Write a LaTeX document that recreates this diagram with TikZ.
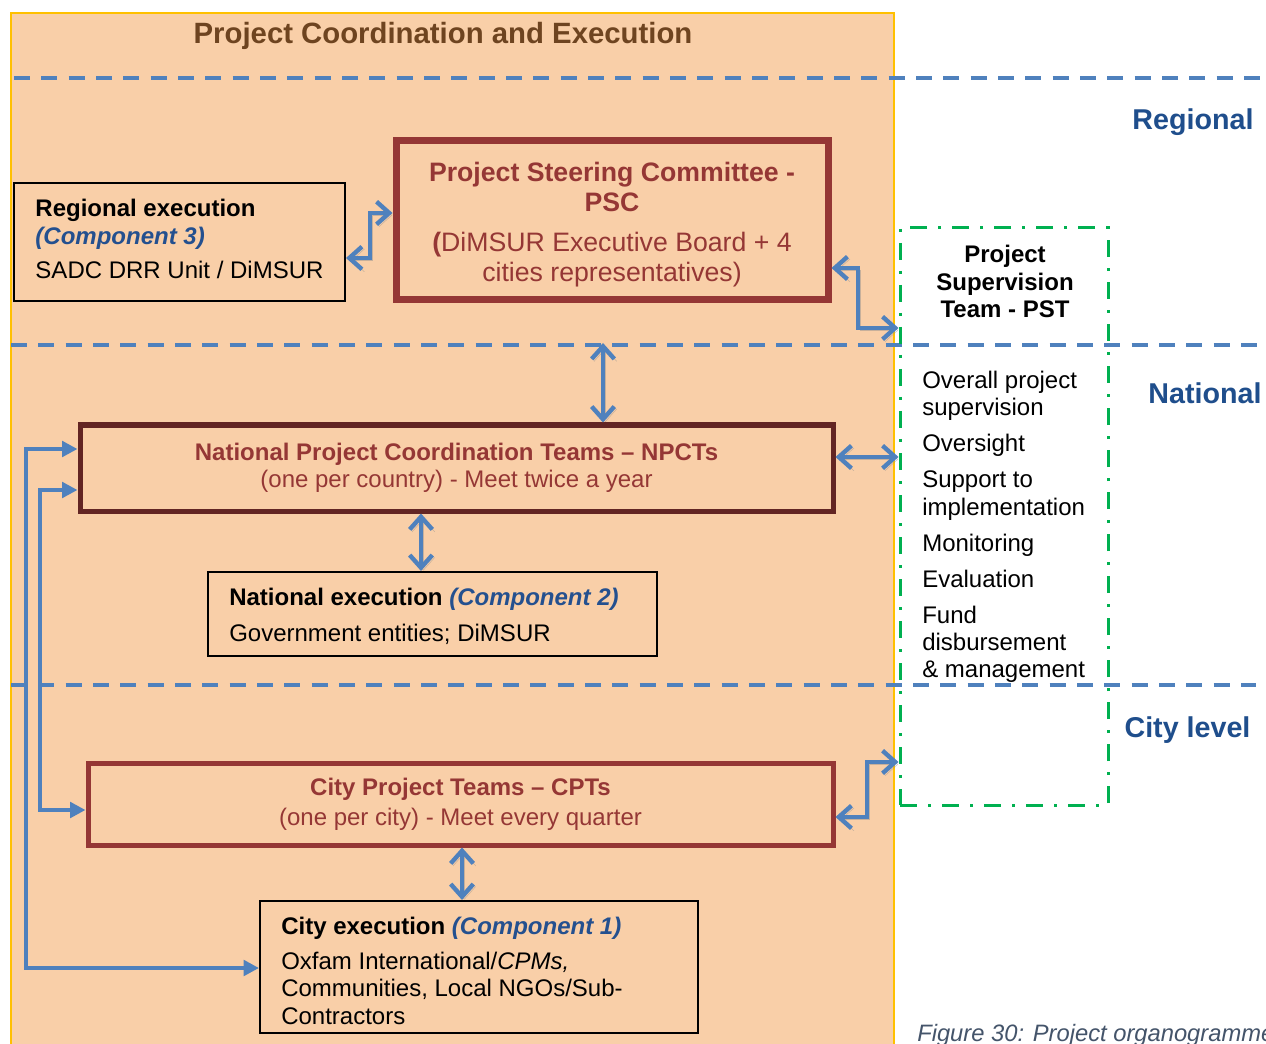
\documentclass[tikz,border=0pt]{standalone}
\usepackage{fontspec}
\setmainfont{Liberation Sans}
\usetikzlibrary{arrows.meta}
\definecolor{bgpeach}{HTML}{F9CFA8}
\definecolor{goldline}{HTML}{FFC000}
\definecolor{dblue}{HTML}{4F81BD}
\definecolor{lvlblue}{HTML}{1F4E8C}
\definecolor{pscred}{HTML}{953735}
\definecolor{npctred}{HTML}{632523}
\definecolor{pstgreen}{HTML}{00B050}
\definecolor{compblue}{HTML}{24508F}
\definecolor{titlebrown}{HTML}{6E4420}
\definecolor{capgray}{HTML}{44546A}
\newcommand\fsz[2]{\fontsize{#1}{#2}\selectfont}
\begin{document}
\begin{tikzpicture}[x=0.75pt,y=-0.75pt,
  lvlline/.style={draw=dblue, line width=2.5pt, dash pattern=on 12pt off 8.5pt},
  lvllabel/.style={font=\fsz{21.5}{24}\bfseries, text=lvlblue, inner sep=0pt},
  blackbox/.style={draw=black, line width=1.5pt, inner xsep=0pt, inner ysep=0pt, align=left, font=\fsz{18}{20.5}},
  redbox/.style={draw=pscred, inner sep=0pt, align=center, text=pscred},
  dbl/.style={draw=dblue, line width=3.3pt,
    {Straight Barb[length=9.5pt,width=17pt]}-{Straight Barb[length=9.5pt,width=17pt]},
    preaction={draw=black!45, opacity=0.45, transform canvas={shift={(1.8pt,-1.8pt)}}}},
  tri/.style={draw=dblue, line width=3.2pt,
    {Triangle[length=11.5pt,width=11.5pt]}-{Triangle[length=11.5pt,width=11.5pt]}}]
\useasboundingbox (0,0) rectangle (1266,1044);
\fill[white] (0,0) rectangle (1266,1044);
% background panel
\filldraw[fill=bgpeach, draw=goldline, line width=1.5pt] (11,13) rectangle (894,1070);
\node[font=\fsz{22}{26}\bfseries, text=titlebrown] (title) at (443,36) {Project Coordination and Execution};
% level lines
\draw[lvlline] (14,78) -- (1266,78);
\draw[lvlline] (11,345) -- (1266,345);
\draw[lvlline] (11,685) -- (1256,685);
\node[lvllabel] (lreg) at (1193,122) {Regional};
\node[lvllabel] (lnat) at (1205,393) {National};
\node[lvllabel] (lcity) at (1187.5,730) {City level};
% PST box
\node[draw=pstgreen, line width=2.25pt, dash pattern=on 12.75pt off 8.25pt on 2.25pt off 8.25pt,
  minimum width=156pt, minimum height=432.75pt, inner sep=0pt] (pst) at (1004,516.5) {};
\node[font=\fsz{18}{20.5}\bfseries, align=center, inner sep=0pt] (psttitle) at (1005,281.5) {Project\\Supervision\\Team - PST};
\node[font=\fsz{18}{20.5}, align=left, anchor=north west, inner sep=0pt] (pstlist) at (922,371)
 {Overall project\\supervision\\[6.5pt]Oversight\\[6.5pt]Support to\\implementation\\[6.5pt]Monitoring\\[6.5pt]Evaluation\\[6.5pt]Fund\\disbursement\\\& management};
% regional execution
\node[blackbox, minimum width=248.25pt, minimum height=88.5pt] (regx) at (179.5,242) {};
\node[font=\fsz{18}{20.5}, align=left, inner sep=0pt] (regxtext) at (179.5,239)
 {\textbf{Regional execution}\\[0.5pt]\textbf{\textit{\color{compblue}(Component 3)}}\\[4.5pt]SADC DRR Unit / DiMSUR};
% PSC
\node[redbox, line width=5.25pt, minimum width=324pt, minimum height=119.25pt, font=\fsz{20}{22.5}] (psc) at (612,220.5) {};
\node[font=\fsz{20}{22.5}, align=center, text=pscred, inner sep=0pt] (psctext) at (612,224.5)
 {\textbf{Project Steering Committee -}\\\textbf{PSC}\\[7.5pt]\textbf{(}DiMSUR Executive Board + 4\\cities representatives)};
% NPCT
\node[redbox, draw=npctred, line width=3.75pt, minimum width=564.75pt, minimum height=64.5pt, font=\fsz{18}{20.25}] (npct) at (456.5,468)
 {\textbf{National Project Coordination Teams – NPCTs}\\(one per country) - Meet twice a year};
% National execution
\node[blackbox, minimum width=336.75pt, minimum height=63pt] (natx) at (432.5,614) {};
\node[font=\fsz{18}{20.5}, align=left, anchor=west, inner sep=0pt] (natxtext) at (229,616)
 {\textbf{National execution} \textbf{\textit{\color{compblue}(Component 2)}}\\[6.5pt]Government entities; DiMSUR};
% CPT
\node[redbox, line width=3.75pt, minimum width=558.75pt, minimum height=61.5pt, font=\fsz{18}{20.25}] (cpt) at (460.5,804)
 {\textbf{City Project Teams – CPTs}\\[2pt](one per city) - Meet every quarter};
% City execution
\node[blackbox, minimum width=328.5pt, minimum height=99pt] (cityx) at (479,967) {};
\node[font=\fsz{18}{20.5}, align=left, anchor=west, inner sep=0pt] (cityxtext) at (281,971)
 {\textbf{City execution} \textbf{\textit{\color{compblue}(Component 1)}}\\[5.5pt]Oxfam International/\textit{CPMs,}\\Communities, Local NGOs/Sub-\\Contractors};
% caption (cut off at the right edge, as in the source)
\node[anchor=west, font=\fsz{17.8}{20}\itshape, text=capgray, inner sep=0pt] (cap) at (917,1035) {Figure 30: Project organogramme};
% connectors
\coordinate (natline) at (603,343);
\draw[dbl] (regx.east |- 0,258) -- (370,258) -- (370,213) -- (psc.west |- 0,213);
\draw[dbl] (psc.east |- 0,268) -- (858,268) -- (858,328) -- (pst.west |- 0,328);
\draw[dbl] (natline) -- (npct.north -| natline);
\draw[dbl] (npct.east |- 0,457) -- (pst.west |- 0,457);
\draw[dbl] (npct.south -| 421,0) -- (natx.north -| 421,0);
\draw[dbl] (cpt.east |- 0,817) -- (867,817) -- (867,762) -- (pst.west |- 0,762);
\draw[dbl] (cpt.south -| 462,0) -- (cityx.north -| 462,0);
\draw[tri] (npct.west |- 0,449) -- (26,449) -- (26,968) -- (cityx.west |- 0,968);
\draw[tri] (npct.west |- 0,490) -- (40,490) -- (40,810) -- (cpt.west |- 0,810);
\end{tikzpicture}
\end{document}
